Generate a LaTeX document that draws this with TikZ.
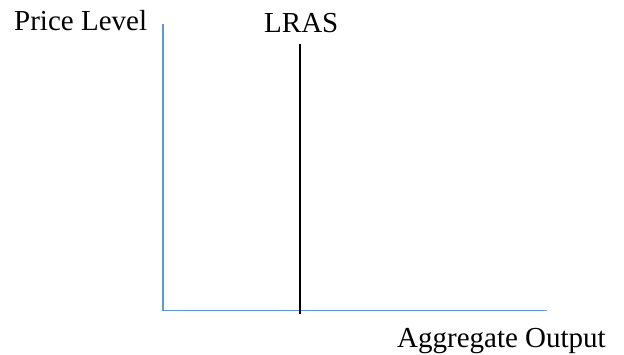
\documentclass[tikz,border=0pt]{standalone}
\usepackage{fontspec}
\setmainfont{Liberation Serif}
\definecolor{axisblue}{RGB}{91,155,213}
\begin{document}
\begin{tikzpicture}[x=1pt,y=-1pt,
  axisline/.style={draw=axisblue,line width=1.2pt},
  curveline/.style={draw=black,line width=2.8pt},
  lbl/.style={font=\fontsize{29}{31}\selectfont,inner sep=0pt,anchor=base west}]
  \useasboundingbox (0,0) rectangle (624,354);
  % axes
  \coordinate (ytop) at (163,24);
  \coordinate (origin) at (163,310.5);
  \coordinate (xend) at (547,310.5);
  \draw[axisline] (ytop) -- (origin) -- (xend);
  % long-run aggregate supply
  \coordinate (lrastop) at (300,44);
  \coordinate (lrasbot) at (300,313.5);
  \draw[curveline] (lrastop) -- (lrasbot);
  % labels
  \node[lbl] (plabel) at (14,30) {Price Level};
  \node[lbl] (lraslabel) at (264,32) {LRAS};
  \node[lbl] (qlabel) at (397,347) {Aggregate Output};
\end{tikzpicture}
\end{document}
